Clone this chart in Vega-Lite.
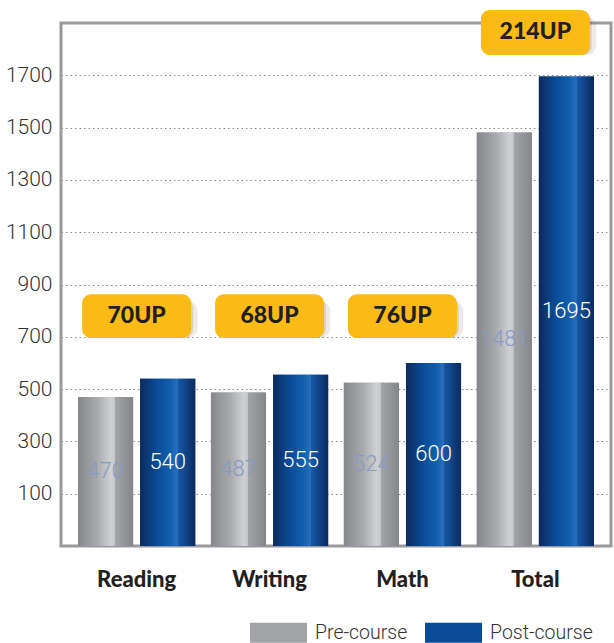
{
  "$schema": "https://vega.github.io/schema/vega-lite/v6.json",
  "width": 550,
  "height": 523,
  "autosize": {"type": "none"},
  "padding": {"left": 61, "top": 23, "right": 3, "bottom": 97},
  "background": "white",
  "config": {
    "view": {"stroke": "#9a9a9e", "strokeWidth": 3},
    "axis": {"domain": false, "ticks": false}
  },
  "datasets": {
    "scores": [
      {"subject": "Reading", "series": "Pre-course", "score": 470},
      {"subject": "Reading", "series": "Post-course", "score": 540},
      {"subject": "Writing", "series": "Pre-course", "score": 487},
      {"subject": "Writing", "series": "Post-course", "score": 555},
      {"subject": "Math", "series": "Pre-course", "score": 524},
      {"subject": "Math", "series": "Post-course", "score": 600},
      {"subject": "Total", "series": "Pre-course", "score": 1481},
      {"subject": "Total", "series": "Post-course", "score": 1695}
    ],
    "gains": [
      {"subject": "Reading", "gain": "70UP"},
      {"subject": "Writing", "gain": "68UP"},
      {"subject": "Math", "gain": "76UP"},
      {"subject": "Total", "gain": "214UP"}
    ]
  },
  "resolve": {"scale": {"y": "independent"}},
  "layer": [
    {
      "data": {"name": "scores"},
      "encoding": {
        "x": {
          "field": "subject", "type": "nominal",
          "sort": ["Reading", "Writing", "Math", "Total"],
          "scale": {"paddingInner": 0.118, "paddingOuter": 0.128},
          "axis": {"title": null, "labelAngle": 0, "labelFont": "Lato", "labelFontWeight": 900, "labelFontSize": 22, "labelColor": "#231f20", "labelPadding": 23}
        },
        "xOffset": {
          "field": "series", "type": "nominal",
          "sort": ["Pre-course", "Post-course"],
          "scale": {"paddingInner": 0.113, "paddingOuter": 0}
        },
        "y": {
          "field": "score", "type": "quantitative",
          "scale": {"domain": [-100, 1900], "nice": false, "zero": false},
          "axis": {
            "title": null, "values": [100, 300, 500, 700, 900, 1100, 1300, 1500, 1700], "format": "d",
            "labelFont": "Roboto", "labelFontWeight": 300, "labelFontSize": 21, "labelColor": "#333333", "labelPadding": 9,
            "grid": true, "gridColor": "#8a8a8a", "gridDash": [1.5, 3], "gridWidth": 1.2
          }
        },
        "y2": {"datum": -100}
      },
      "layer": [
        {
          "mark": {"type": "bar"},
          "encoding": {
            "color": {
              "field": "series", "type": "nominal",
              "scale": {"domain": ["Pre-course", "Post-course"], "range": ["#a3a4a8", "#0a4b96"]},
              "legend": {
                "title": null, "orient": "none", "legendX": 189, "legendY": 581, "direction": "horizontal",
                "symbolType": "M-1,-0.35H1V0.35H-1Z", "symbolSize": 3249, "symbolStrokeWidth": 0, "symbolOpacity": 1,
                "labelFont": "Roboto", "labelFontWeight": 300, "labelFontSize": 19.5, "labelColor": "#333333",
                "labelOffset": 8, "columnPadding": 17, "padding": 0,
                "encode": {
                  "symbols": {
                    "update": {
                      "fill": [
                        {"test": "datum.value === 'Pre-course'", "value": {"gradient": "linear", "x1": 0, "y1": 0, "x2": 1, "y2": 0, "stops": [
                          {"offset": 0, "color": "#86878b"},
                          {"offset": 0.35, "color": "#a9aaae"},
                          {"offset": 0.6, "color": "#d0d1d4"},
                          {"offset": 0.665, "color": "#c4c5c8"},
                          {"offset": 0.675, "color": "#a3a4a8"},
                          {"offset": 1, "color": "#85868a"}
                        ]}},
                        {"value": {"gradient": "linear", "x1": 0, "y1": 0, "x2": 1, "y2": 0, "stops": [
                          {"offset": 0, "color": "#0c2a5c"},
                          {"offset": 0.3, "color": "#0a4b96"},
                          {"offset": 0.55, "color": "#125fae"},
                          {"offset": 0.68, "color": "#2a6fbb"},
                          {"offset": 0.69, "color": "#1658a8"},
                          {"offset": 1, "color": "#0b2a5c"}
                        ]}}
                      ]
                    }
                  }
                }
              }
            }
          }
        },
        {
          "transform": [{"filter": "datum.series === 'Pre-course'"}],
          "mark": {"type": "bar", "color": {"gradient": "linear", "x1": 0, "y1": 0, "x2": 1, "y2": 0, "stops": [
            {"offset": 0, "color": "#86878b"},
            {"offset": 0.35, "color": "#a9aaae"},
            {"offset": 0.6, "color": "#d0d1d4"},
            {"offset": 0.665, "color": "#c4c5c8"},
            {"offset": 0.675, "color": "#a3a4a8"},
            {"offset": 1, "color": "#85868a"}
          ]}}
        },
        {
          "transform": [{"filter": "datum.series === 'Post-course'"}],
          "mark": {"type": "bar", "color": {"gradient": "linear", "x1": 0, "y1": 0, "x2": 1, "y2": 0, "stops": [
            {"offset": 0, "color": "#0c2a5c"},
            {"offset": 0.3, "color": "#0a4b96"},
            {"offset": 0.55, "color": "#125fae"},
            {"offset": 0.68, "color": "#2a6fbb"},
            {"offset": 0.69, "color": "#1658a8"},
            {"offset": 1, "color": "#0b2a5c"}
          ]}}
        }
      ]
    },
    {
      "data": {"name": "scores"},
      "transform": [{"filter": "datum.series === 'Pre-course'"}],
      "mark": {"type": "text", "font": "Roboto", "fontWeight": 300, "fontSize": 22, "baseline": "middle", "color": "#8a9ac4"},
      "encoding": {
        "x": {"field": "subject", "type": "nominal", "sort": ["Reading", "Writing", "Math", "Total"]},
        "xOffset": {"field": "series", "type": "nominal", "sort": ["Pre-course", "Post-course"]},
        "y": {"field": "score", "type": "quantitative", "scale": {"domain": [-100, 3900], "nice": false, "zero": false}, "axis": null},
        "text": {"field": "score", "type": "quantitative"}
      }
    },
    {
      "data": {"name": "scores"},
      "transform": [{"filter": "datum.series === 'Post-course'"}],
      "mark": {"type": "text", "font": "Roboto", "fontWeight": 300, "fontSize": 22, "baseline": "middle", "color": "#ffffff"},
      "encoding": {
        "x": {"field": "subject", "type": "nominal", "sort": ["Reading", "Writing", "Math", "Total"]},
        "xOffset": {"field": "series", "type": "nominal", "sort": ["Pre-course", "Post-course"]},
        "y": {"field": "score", "type": "quantitative", "scale": {"domain": [-100, 3900], "nice": false, "zero": false}, "axis": null},
        "text": {"field": "score", "type": "quantitative"}
      }
    },
    {
      "data": {"name": "gains"},
      "transform": [{"filter": "datum.subject !== 'Total'"}],
      "encoding": {
        "x": {"field": "subject", "type": "nominal", "sort": ["Reading", "Writing", "Math", "Total"]}
      },
      "layer": [
        {
          "mark": {"type": "bar", "cornerRadius": 10, "color": "#7a5a20", "opacity": 0.12, "xOffset": 4, "yOffset": 7, "width": {"band": 0.97}},
          "encoding": {
            "y": {"datum": 863, "type": "quantitative", "scale": {"domain": [-100, 1900], "nice": false, "zero": false}, "axis": null},
            "y2": {"datum": 695}
          }
        },
        {
          "mark": {"type": "bar", "cornerRadius": 9, "color": "#7a5a20", "opacity": 0.16, "xOffset": 2, "yOffset": 4, "width": {"band": 0.93}},
          "encoding": {
            "y": {"datum": 863, "type": "quantitative", "scale": {"domain": [-100, 1900], "nice": false, "zero": false}, "axis": null},
            "y2": {"datum": 695}
          }
        },
        {
          "mark": {"type": "bar", "cornerRadius": 9, "color": "#fbbb17", "width": {"band": 0.93}},
          "encoding": {
            "y": {"datum": 863, "type": "quantitative", "scale": {"domain": [-100, 1900], "nice": false, "zero": false}, "axis": null},
            "y2": {"datum": 695}
          }
        },
        {
          "mark": {"type": "text", "font": "Lato", "fontWeight": 900, "fontSize": 23, "baseline": "middle", "color": "#231f20"},
          "encoding": {
            "y": {"datum": 779, "type": "quantitative", "scale": {"domain": [-100, 1900], "nice": false, "zero": false}, "axis": null},
            "text": {"field": "gain", "type": "nominal"}
          }
        }
      ]
    },
    {
      "data": {"name": "gains"},
      "transform": [{"filter": "datum.subject === 'Total'"}],
      "encoding": {
        "x": {"field": "subject", "type": "nominal", "sort": ["Reading", "Writing", "Math", "Total"]}
      },
      "layer": [
        {
          "mark": {"type": "bar", "cornerRadius": 10, "color": "#7a5a20", "opacity": 0.12, "xOffset": 4, "yOffset": 7, "width": {"band": 0.97}},
          "encoding": {
            "y": {"datum": 1950, "type": "quantitative", "scale": {"domain": [-100, 1900], "nice": false, "zero": false}, "axis": null},
            "y2": {"datum": 1778}
          }
        },
        {
          "mark": {"type": "bar", "cornerRadius": 9, "color": "#7a5a20", "opacity": 0.16, "xOffset": 2, "yOffset": 4, "width": {"band": 0.93}},
          "encoding": {
            "y": {"datum": 1950, "type": "quantitative", "scale": {"domain": [-100, 1900], "nice": false, "zero": false}, "axis": null},
            "y2": {"datum": 1778}
          }
        },
        {
          "mark": {"type": "bar", "cornerRadius": 9, "color": "#fbbb17", "width": {"band": 0.93}},
          "encoding": {
            "y": {"datum": 1950, "type": "quantitative", "scale": {"domain": [-100, 1900], "nice": false, "zero": false}, "axis": null},
            "y2": {"datum": 1778}
          }
        },
        {
          "mark": {"type": "text", "font": "Lato", "fontWeight": 900, "fontSize": 23, "baseline": "middle", "color": "#231f20"},
          "encoding": {
            "y": {"datum": 1864, "type": "quantitative", "scale": {"domain": [-100, 1900], "nice": false, "zero": false}, "axis": null},
            "text": {"field": "gain", "type": "nominal"}
          }
        }
      ]
    }
  ]
}
